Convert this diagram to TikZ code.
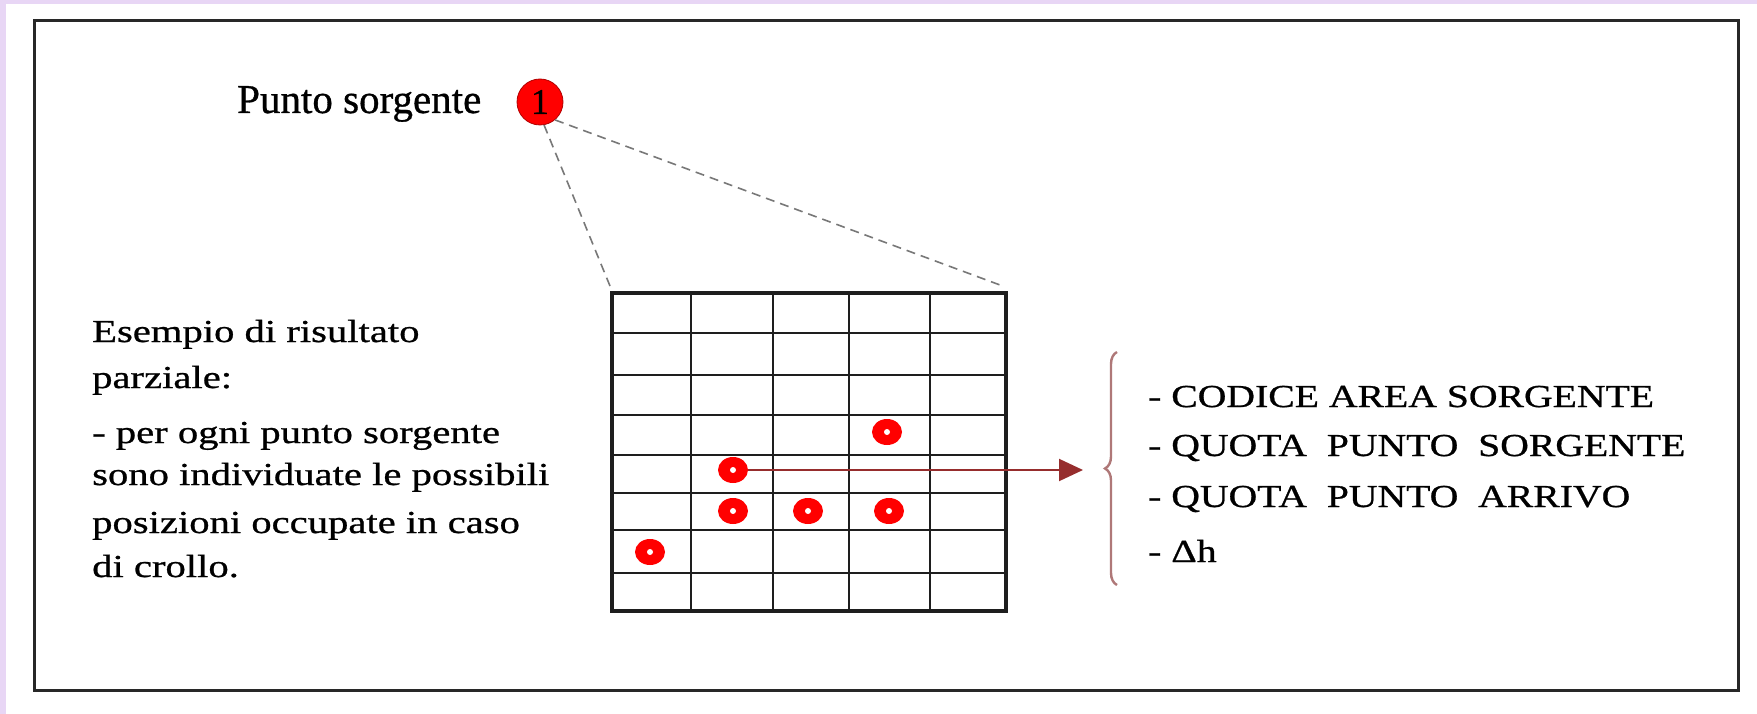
\documentclass[tikz,border=0pt]{standalone}
\usepackage{fontspec}
\setmainfont{Liberation Serif}[FakeBold=0.8]
\newfontfamily\widefont[FakeStretch=1.27,FakeBold=0.8]{Liberation Serif}
\newfontfamily\rightfont[FakeStretch=1.24,FakeBold=0.8]{Liberation Serif}
\usetikzlibrary{decorations.pathreplacing,arrows.meta,shapes.geometric}
\definecolor{lilac}{RGB}{232,214,245}
\definecolor{boxline}{RGB}{40,40,40}
\definecolor{gridline}{RGB}{30,30,30}
\definecolor{arrowcol}{RGB}{150,45,45}
\definecolor{bracecol}{RGB}{175,120,120}
\definecolor{dashcol}{RGB}{120,120,120}
\begin{document}
\begin{tikzpicture}[x=1pt,y=-1pt,
  dot/.style={ellipse, fill=red, minimum width=30, minimum height=26, inner sep=0,
    path picture={\fill[white] (path picture bounding box.center) circle (3);}},
  lefttxt/.style={anchor=base west, inner sep=0, font=\widefont\fontsize{32}{40}\selectfont},
  righttxt/.style={anchor=base west, inner sep=0, font=\rightfont\fontsize{32}{40}\selectfont},
  dashline/.style={dashcol, line width=1.6, dash pattern=on 9 off 6},
  gridthin/.style={gridline, line width=2.6}]
\fill[lilac] (0,0) rectangle (1757,714);
\fill[white] (6,4) rectangle (1757,714);
\useasboundingbox (0,0) rectangle (1757,714);
\draw[boxline, line width=3] (34,21) rectangle (1738,690);

% source point
\node[anchor=base west, inner sep=0, font=\fontsize{41}{45}\selectfont] (ps) at (237,113) {Punto sorgente};
\node[circle, fill=red, draw=red!70!black, line width=0.8, minimum size=46, inner sep=0,
      font=\fontsize{36}{36}\selectfont] (src) at (540,102) {1};

% grid
\node[draw=gridline, line width=4, minimum width=394, minimum height=318, inner sep=0] (grid) at (809,452) {};
\foreach \x in {691,773,849,930} \draw[gridthin] (\x,293) -- (\x,611);
\foreach \y in {333,375,415,455,493,530,573} \draw[gridthin] (612,\y) -- (1006,\y);

% dashed zoom lines
\coordinate (gl) at (610,286);
\coordinate (gr) at (1000,285);
\draw[dashline] (src.-80) -- (gl);
\draw[dashline] (src.-50) -- (gr);

% arrow
\coordinate (tip) at (1083,470);
\node[dot] (d2) at (733,470) {};
\draw[arrowcol, line width=2, -{Triangle[length=24,width=22]}] (d2) -- (tip);

% dots
\node[dot] (d1) at (650,552) {};
\node[dot] (d3) at (733,511) {};
\node[dot] (d4) at (808,511) {};
\node[dot] (d5) at (889,511) {};
\node[dot] (d6) at (887,432) {};

% brace
\coordinate (bb) at (1117,585);
\coordinate (bt) at (1117,352);
\draw[bracecol, line width=2.4, decorate, decoration={brace, amplitude=12}] (bb) -- (bt);

% right list
\node[righttxt] (r1) at (1148,407) {- CODICE AREA SORGENTE};
\node[righttxt] (r2) at (1148,456) {- QUOTA\ \ PUNTO\ \ SORGENTE};
\node[righttxt] (r3) at (1148,507) {- QUOTA\ \ PUNTO\ \ ARRIVO};
\node[righttxt] (r4) at (1148,562) {- Δh};

% left text
\node[lefttxt] (l1) at (92,342) {Esempio di risultato};
\node[lefttxt] (l2) at (92,388) {parziale:};
\node[lefttxt] (l3) at (92,443) {- per ogni punto sorgente};
\node[lefttxt] (l4) at (92,485) {sono individuate le possibili};
\node[lefttxt] (l5) at (92,533) {posizioni occupate in caso};
\node[lefttxt] (l6) at (92,577) {di crollo.};
\end{tikzpicture}
\end{document}
